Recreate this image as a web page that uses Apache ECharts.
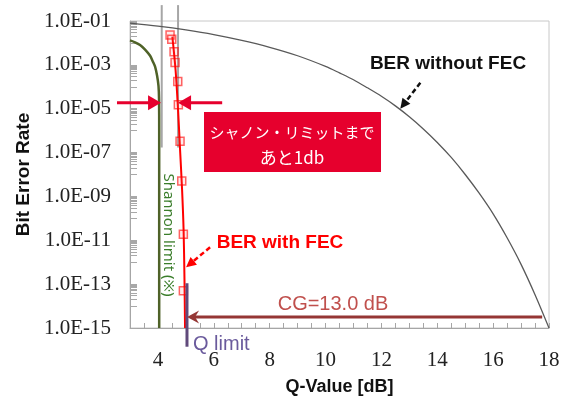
<!DOCTYPE html>
<html><head><meta charset="utf-8">
<script src="https://cdn.jsdelivr.net/npm/echarts@6/dist/echarts.min.js"></script>
<style>html,body{margin:0;padding:0;background:#fff}#c{width:576px;height:401px}</style>
</head><body><div id="c"></div>
<script>
// ---- data ----
const xTickLabels = [4, 6, 8, 10, 12, 14, 16, 18];
const yTickValues = [1e-1, 1e-3, 1e-5, 1e-7, 1e-9, 1e-11, 1e-13, 1e-15];
const yTickLabels = ['1.0E-01','1.0E-03','1.0E-05','1.0E-07','1.0E-09','1.0E-11','1.0E-13','1.0E-15'];

// BER without FEC
const woFecQ   = [3, 4, 5, 6, 7, 8, 9, 10, 10.5, 11, 11.5, 12, 12.5, 13, 13.5, 14, 14.5, 15, 15.5, 16, 16.5, 17, 17.5, 18];
const woFecBer = [8e-2, 5.8e-2, 3.9e-2, 2.4e-2, 1.3e-2, 6.3e-3, 2.6e-3, 8.5e-4, 4.3e-4, 2.1e-4, 9.0e-5, 3.7e-5, 1.35e-5, 4.3e-6, 1.2e-6, 2.9e-7, 6.0e-8, 1.0e-8, 1.4e-9, 1.6e-10, 1.3e-11, 8.0e-13, 3.3e-14, 1.0e-15];

// Shannon limit curve
const shannonQ   = [3.0, 3.18, 3.36, 3.54, 3.72, 3.82, 3.90, 3.97, 4.02, 4.04, 4.045, 4.045];
const shannonBer = [1.3e-2, 1.07e-2, 8.1e-3, 5.0e-3, 2.6e-3, 1.4e-3, 8.1e-4, 3.2e-4, 1.1e-4, 2.6e-5, 1.1e-6, 1e-15];

// BER with FEC (line and measured points)
const fecLineQ   = [4.516, 4.631, 4.72, 4.792, 4.864, 4.918, 4.95, 4.97];
const fecLineBer = [1.93e-2, 5.9e-4, 9.0e-6, 1.37e-7, 2.1e-9, 3.2e-11, 1.7e-13, 1.0e-15];
const fecPtsQ   = [4.434, 4.495, 4.577, 4.613, 4.71, 4.731, 4.792, 4.853, 4.91, 4.91];
const fecPtsBer = [2.3e-2, 1.47e-2, 4.0e-3, 1.27e-3, 1.74e-4, 1.5e-5, 3.3e-7, 5.1e-9, 1.9e-11, 5.0e-14];

// reference lines
const guideQ = [4.136, 4.72];          // grey vertical guides
const guideBer = [0.53, 1.7e-7];       // top / bottom of guides
const qLimitQ = 5.04;
const qLimitBer = [1.1e-13, 1.4e-16];
const cgBer = 3.16e-15;
const cgFromQ = 17.756, cgToQ = 5.043;

const zip = (a, b) => a.map((v, i) => [v, b[i]]);

// minor ticks (log positions) for the y axis
const minorTicks = [];
yTickValues.forEach(v => {
  const e = Math.round(Math.log10(v));
  minorTicks.push(e);
  for (let k = 1; k <= 9; k++) { const t = e - 1 + Math.log10(k); if (t >= -15) minorTicks.push(t); }
});

const chart = echarts.init(document.getElementById('c'));
const SERIF = 'Liberation Serif, Times New Roman, serif';
const SANS = 'Liberation Sans, Arial, sans-serif';

chart.setOption({
  animation: false,
  backgroundColor: '#fff',
  grid: { left: 130, right: 27, top: 21, bottom: 72, show: true, borderColor: '#c8c8c8', borderWidth: 1 },
  xAxis: {
    type: 'value', min: 3, max: 18, interval: 0.5,
    name: 'Q-Value [dB]', nameLocation: 'middle', nameGap: 50,
    nameTextStyle: { fontFamily: SANS, fontWeight: 'bold', fontSize: 18, color: '#111' },
    axisLine: { lineStyle: { color: '#a6a6a6', width: 1 } },
    axisTick: { inside: true, length: 5, lineStyle: { color: '#a6a6a6' } },
    axisLabel: { margin: 22, fontFamily: SERIF, fontSize: 21, color: '#222',
      formatter: v => xTickLabels.indexOf(v) >= 0 ? String(v) : '' },
    splitLine: { show: false }
  },
  yAxis: [{
    type: 'log', min: 1e-15, max: 1e-1, interval: 2,
    name: 'Bit Error Rate', nameLocation: 'middle', nameGap: 97, nameRotate: 90,
    nameTextStyle: { fontFamily: SANS, fontWeight: 'bold', fontSize: 19, color: '#111' },
    axisLine: { show: true, lineStyle: { color: '#a6a6a6', width: 1 } },
    axisTick: { show: false },
    axisLabel: { margin: 19, fontFamily: SERIF, fontSize: 21, color: '#222',
      formatter: v => {
        for (let i = 0; i < yTickValues.length; i++)
          if (Math.abs(Math.log10(v) - Math.log10(yTickValues[i])) < 0.01) return yTickLabels[i];
        return '';
      } },
    splitLine: { show: false }
  }, {
    type: 'value', min: -15, max: -1, position: 'left',
    axisLine: { show: false }, axisLabel: { show: false }, splitLine: { show: false },
    axisTick: { show: true, inside: true, length: 7, customValues: minorTicks, lineStyle: { color: '#a8a8a8' } }
  }],
  series: [
    { type: 'line', data: zip(woFecQ, woFecBer), smooth: 0.3, showSymbol: false,
      lineStyle: { color: '#595959', width: 1.3 }, z: 2 },
    { type: 'line', data: zip(shannonQ, shannonBer), smooth: 0.25, showSymbol: false,
      lineStyle: { color: '#4f6228', width: 2.5 }, z: 3 },
    { type: 'line', data: [[guideQ[0], guideBer[0]], [guideQ[0], guideBer[1]]], showSymbol: false, clip: false,
      lineStyle: { color: '#a6a6a6', width: 2 }, z: 1 },
    { type: 'line', data: [[guideQ[1], guideBer[0]], [guideQ[1], guideBer[1]]], showSymbol: false, clip: false,
      lineStyle: { color: '#a6a6a6', width: 2 }, z: 1 },
    { type: 'line', data: zip(fecLineQ, fecLineBer), smooth: 0.3, showSymbol: false,
      lineStyle: { color: '#ff0000', width: 2 }, z: 4 },
    { type: 'scatter', data: zip(fecPtsQ, fecPtsBer), symbol: 'rect', symbolSize: 8,
      itemStyle: { color: 'rgba(255,90,90,0.15)', borderColor: 'rgba(255,0,0,0.75)', borderWidth: 1.5 }, z: 5 },
    { type: 'line', data: [[qLimitQ, qLimitBer[0]], [qLimitQ, qLimitBer[1]]], showSymbol: false, clip: false,
      lineStyle: { color: '#604a7b', width: 3 }, z: 6 }
  ]
});

const P = (x, y) => chart.convertToPixel({ gridIndex: 0 }, [x, y]);
function arrow(a, b, color, w, hl, hw, dash, notch) {
  notch = notch || 0;
  const dx = b[0] - a[0], dy = b[1] - a[1], L = Math.hypot(dx, dy), ux = dx / L, uy = dy / L, px = -uy, py = ux;
  const bx = b[0] - ux * hl, by = b[1] - uy * hl;
  const nx = bx + ux * notch, ny = by + uy * notch;
  return [
    { type: 'line', shape: { x1: a[0], y1: a[1], x2: nx + ux, y2: ny + uy },
      style: { stroke: color, lineWidth: w, lineDash: dash || null }, z: 100 },
    { type: 'polygon', shape: { points: [b, [bx + px * hw / 2, by + py * hw / 2], [nx, ny], [bx - px * hw / 2, by - py * hw / 2]] },
      style: { fill: color }, z: 100 }
  ];
}
const RED = '#e6002d';
const arrowY = 1.87e-5;
let g = [];
g = g.concat(arrow(P(2.534, arrowY), P(4.111, arrowY), RED, 3, 13, 15));
g = g.concat(arrow(P(6.30, arrowY), P(4.72, arrowY), RED, 3, 13, 15));
g = g.concat(arrow(P(13.394, 1.52e-4), P(12.677, 1e-5), '#111', 2.5, 10, 10, [5, 3]));
g = g.concat(arrow(P(5.867, 4.8e-12), P(5.007, 5.9e-13), '#ff0000', 2.5, 10, 10, [5, 3]));
g = g.concat(arrow(P(cgFromQ, cgBer), P(cgToQ, cgBer), '#953735', 3, 12, 13, null, 4));

g.push({ type: 'rect', shape: { x: 204, y: 112, width: 177, height: 60 }, style: { fill: RED }, z: 90 });
const txt = (text, x, y, font, fill, align, extra) => Object.assign({ type: 'text', x: x, y: y, z: 110,
  style: { text: text, font: font, fill: fill, align: align || 'center', verticalAlign: 'middle' } }, extra || {});
g.push(txt('シャノン・リミットまで', 292, 132, '15px "Noto Sans CJK JP"', '#fff'));
g.push(txt('あと1db', 292, 158, '17px "Noto Sans CJK JP"', '#fff'));
g.push(txt('BER without FEC', 448, 64, 'bold 19px ' + SANS, '#111'));
g.push(txt('BER with FEC', 280, 243, 'bold 19px ' + SANS, '#ff0000'));
g.push(txt('CG=13.0 dB', 333, 304, '20px ' + SANS, '#c0504d'));
g.push(txt('Q limit', 193, 344, '20px ' + SANS, '#6a5a9c', 'left'));
g.push(txt('Shannon limit (※)', 168, 235, '15px "Noto Sans", sans-serif', '#3a7d2a', 'center', { rotation: -Math.PI / 2 }));
chart.setOption({ graphic: g });
</script></body></html>
